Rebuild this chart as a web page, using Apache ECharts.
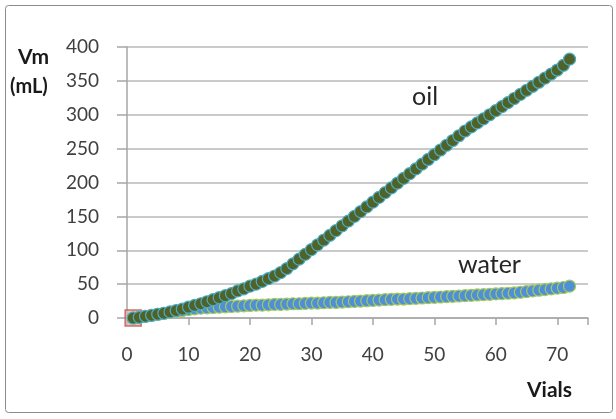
<!DOCTYPE html>
<html>
<head>
<meta charset="utf-8">
<script src="https://cdn.jsdelivr.net/npm/echarts@6/dist/echarts.min.js"></script>
<style>html,body{margin:0;padding:0;background:#fff}#c{width:616px;height:419px}</style>
</head>
<body>
<div id="c"></div>
<script>
// Vial numbers
var vials = [1,2,3,4,5,6,7,8,9,10,11,12,13,14,15,16,17,18,19,20,21,22,23,24,25,26,27,28,29,30,31,32,33,34,35,36,37,38,39,40,41,42,43,44,45,46,47,48,49,50,51,52,53,54,55,56,57,58,59,60,61,62,63,64,65,66,67,68,69,70,71,72];
// Cumulative volume of oil (mL)
var oil = [0,1,2.5,4,5.5,7,9,11,13,16,18.5,21,24,27,30,33,36,40,43,47,50,54,58,62,67,73,80,87,94,101,108,115,122,129,136,143,150,157,164,171,178,185,192,199,206,213,220,227,234,241,248,255,262,269,276,282,288,294,300,306,312,318,324,330,336,342,348,354,360,366,373,382];
// Cumulative volume of water (mL)
var water = [0,1,2.5,4,5.5,7,8.5,10,11,12.5,13.5,14.5,15,15.5,16,16.5,17,17.5,18,18.5,19,19,19.5,20,20,20.5,21,21,21.5,22,22,22.5,23,23,23.5,24,24.5,25,25.5,26,26.5,27,27.5,28,28,28.5,29,29.5,30,30.5,31,31.5,32,32.5,33,33.5,34,34.5,35,35.5,36,36.5,37,38,39,40,41,42,43,44,45,47];
// Origin marker
var originPoint = [[1, 0]];

var xTicks = [0,10,20,30,40,50,60,70];
var yTicks = [0,50,100,150,200,250,300,350,400];

function pairs(xs, ys){ return xs.map(function(x,i){ return [x, ys[i]]; }); }

var chart = echarts.init(document.getElementById('c'), null, {renderer:'canvas'});
var font = 'Lato, "Open Sans", sans-serif';
chart.setOption({
  animation: false,
  backgroundColor: '#fff',
  grid: {left: 127, top: 47, right: 28, bottom: 101, containLabel: false},
  xAxis: {
    type: 'value', min: 0, max: 75, interval: 10,
    axisLine: {show: true, lineStyle: {color: '#a6a6a6', width: 1.5}},
    axisTick: {show: true, length: 7, lineStyle: {color: '#a6a6a6', width: 1.5}},
    splitLine: {show: false},
    axisLabel: {margin: 27, fontSize: 19, color: '#404040', fontFamily: font,
      formatter: function(v){ return xTicks.indexOf(v) >= 0 ? String(v) : ''; }}
  },
  yAxis: {
    type: 'value', min: 0, max: 400, interval: 50,
    axisLine: {show: true, lineStyle: {color: '#a6a6a6', width: 1.5}},
    axisTick: {show: true, length: 10, lineStyle: {color: '#a6a6a6', width: 1.5}},
    splitLine: {show: true, lineStyle: {color: '#b8b8b8', width: 1.5}},
    axisLabel: {margin: 28, fontSize: 19, color: '#404040', fontFamily: font,
      formatter: function(v){ return yTicks.indexOf(v) >= 0 ? String(v) : ''; }}
  },
  series: [
    {name: 'origin', type: 'scatter', data: originPoint, symbol: 'rect', symbolSize: 16, z: 1,
     itemStyle: {color: '#e6b3b3', borderColor: '#c0504d', borderWidth: 1.5}},
    {name: 'water', type: 'scatter', data: pairs(vials, water), symbol: 'circle', symbolSize: 12, z: 2,
     itemStyle: {color: '#4f8fd6', borderColor: '#a5c95f', borderWidth: 1.2, opacity: 1}},
    {name: 'oil', type: 'scatter', data: pairs(vials, oil), symbol: 'circle', symbolSize: 12, z: 3,
     itemStyle: {color: '#4f6228', borderColor: '#4bacc6', borderWidth: 1.2, opacity: 1}}
  ],
  graphic: [
    {type: 'rect', shape: {x: 5.5, y: 5.5, width: 607, height: 407, r: 3}, style: {fill: 'none', stroke: '#8c8c8c', lineWidth: 1}, z: -10},
    {type: 'text', left: 18, top: 47, style: {text: 'Vm', font: 'bold 21px ' + font, fill: '#1a1a1a'}},
    {type: 'text', left: 10, top: 77, style: {text: '(mL)', font: 'bold 20px ' + font, fill: '#1a1a1a'}},
    {type: 'text', left: 527, top: 380, style: {text: 'Vials', font: 'bold 21px ' + font, fill: '#1a1a1a'}},
    {type: 'text', left: 412, top: 84, style: {text: 'oil', font: '25px ' + font, fill: '#262626'}},
    {type: 'text', left: 458, top: 252, style: {text: 'water', font: '25px ' + font, fill: '#262626'}}
  ]
});
</script>
</body>
</html>
